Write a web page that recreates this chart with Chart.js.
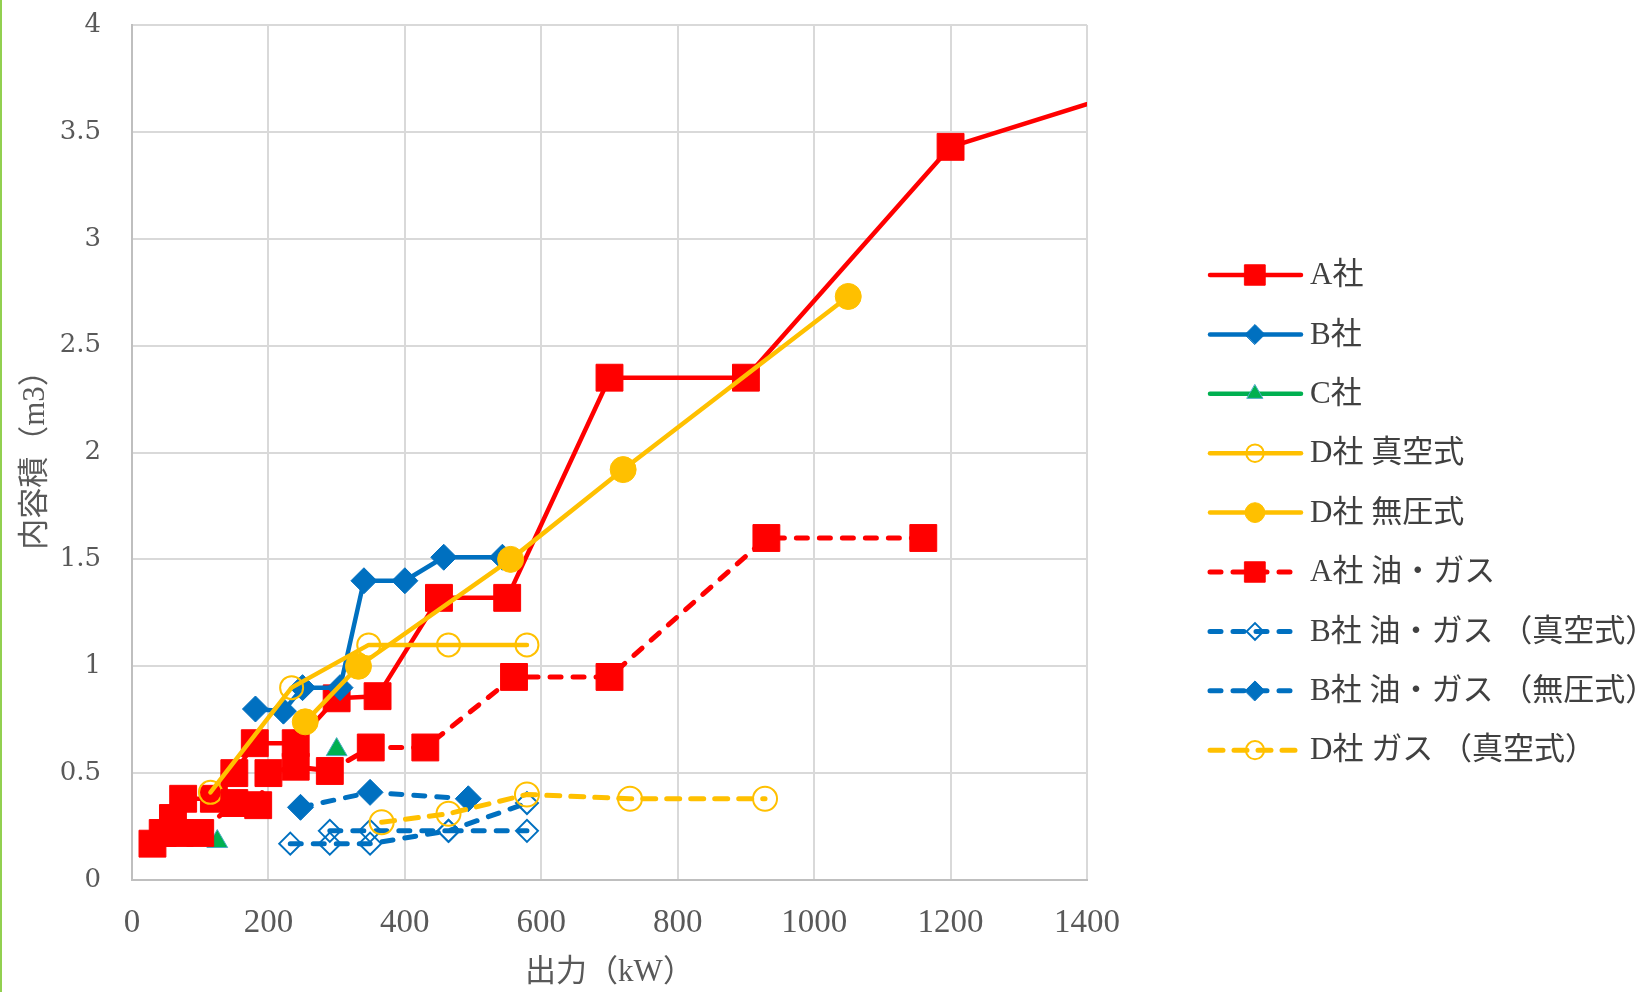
<!DOCTYPE html>
<html lang="ja">
<head>
<meta charset="utf-8">
<title>出力と内容積</title>
<script src="https://cdn.jsdelivr.net/npm/chart.js"></script>
<style>
  html, body { margin: 0; padding: 0; background: #fff; }
  #wrap { position: relative; width: 1650px; height: 992px; overflow: hidden; }
  #chart { position: absolute; left: 0; top: 0; }
  #edge { position: absolute; left: 0; top: 0; width: 2px; height: 992px; background: #92d050; }
</style>
</head>
<body>
<div id="wrap">
  <canvas id="chart" width="1650" height="992"></canvas>
  <div id="edge"></div>
</div>
<script>
// 出力 (kW) と 内容積 (m3)
const aKW  = [30, 45, 60, 75, 120, 150, 180, 240, 300, 360, 450, 550, 700, 900, 1200, 1600];
const aVol = [0.17, 0.22, 0.29, 0.38, 0.38, 0.50, 0.64, 0.64, 0.85, 0.86, 1.32, 1.32, 2.35, 2.35, 3.43, 3.83];

const bKW  = [181, 222, 250, 305, 340, 400, 457, 543];
const bVol = [0.80, 0.79, 0.90, 0.90, 1.40, 1.40, 1.51, 1.51];

const cKW  = [125, 300];
const cVol = [0.18, 0.61];

const dVacKW  = [115, 234, 347, 464, 579];
const dVacVol = [0.41, 0.90, 1.10, 1.10, 1.10];

const dAtmKW  = [254, 332, 555, 720, 1050];
const dAtmVol = [0.74, 1.00, 1.50, 1.92, 2.73];

const aOilKW  = [70, 100, 150, 185, 200, 240, 290, 350, 430, 560, 700, 930, 1160];
const aOilVol = [0.22, 0.22, 0.36, 0.35, 0.50, 0.53, 0.51, 0.62, 0.62, 0.95, 0.95, 1.60, 1.60];

// null splits the line into two runs
const bOilVacKW  = [232, 290, 349, 464, 579, null, 290, 349, 464, 579];
const bOilVacVol = [0.17, 0.17, 0.17, 0.23, 0.23, null, 0.23, 0.23, 0.23, 0.36];

const bOilAtmKW  = [247, 349, 493];
const bOilAtmVol = [0.34, 0.41, 0.38];

const dGasKW  = [366, 464, 579, 730, 928];
const dGasVol = [0.27, 0.31, 0.40, 0.38, 0.38];

const xTicks = [0, 200, 400, 600, 800, 1000, 1200, 1400];
const yTicks = [0, 0.5, 1, 1.5, 2, 2.5, 3, 3.5, 4];

const RED = "#ff0000";
const BLUE = "#0070c0";
const GREEN = "#00b050";
const YELLOW = "#ffc000";
const NONE = "rgba(0,0,0,0)";
const DASH = [11, 12];

const pts = (xs, ys) => xs.map((x, i) => ({ x: x, y: ys[i] }));

const line = (label, xs, ys, color, extra) => Object.assign({
  label: label,
  data: pts(xs, ys),
  showLine: true,
  borderColor: color,
  borderWidth: 4.5,
  borderCapStyle: "round",
  borderJoinStyle: "round",
  tension: 0,
  pointBackgroundColor: color,
  pointBorderColor: color,
  pointBorderWidth: 1,
  pointHoverRadius: 0,
}, extra);

const datasets = [
  line("A社", aKW, aVol, RED, { pointStyle: "rect", pointRadius: 19 }),
  line("B社", bKW, bVol, BLUE, { pointStyle: "rectRot", pointRadius: 13 }),
  line("C社", cKW, cVol, GREEN, { showLine: false, pointStyle: "triangle", pointRadius: 12, pointBorderColor: "#4bacc6" }),
  line("D社 真空式", dVacKW, dVacVol, YELLOW, { pointStyle: "circle", pointRadius: 11.5, pointBackgroundColor: NONE, pointBorderWidth: 2 }),
  line("D社 無圧式", dAtmKW, dAtmVol, YELLOW, { pointStyle: "circle", pointRadius: 13 }),
  line("A社 油・ガス", aOilKW, aOilVol, RED, { borderDash: DASH, borderWidth: 5, pointStyle: "rect", pointRadius: 19 }),
  line("B社 油・ガス （真空式）", bOilVacKW, bOilVacVol, BLUE, { borderDash: DASH, borderWidth: 5, pointStyle: "rectRot", pointRadius: 11, pointBackgroundColor: NONE, pointBorderWidth: 2 }),
  line("B社 油・ガス （無圧式）", bOilAtmKW, bOilAtmVol, BLUE, { borderDash: DASH, borderWidth: 5, pointStyle: "rectRot", pointRadius: 13 }),
  line("D社 ガス （真空式）", dGasKW, dGasVol, YELLOW, { borderDash: [13, 11], borderWidth: 5, pointStyle: "circle", pointRadius: 12, pointBackgroundColor: NONE, pointBorderWidth: 2 }),
];

// later series sit on top of earlier ones
datasets.forEach((ds, i) => { ds.order = datasets.length - i; });

const TEXT = "#595959";
const LATIN_CJK = "'Liberation Serif', 'Noto Sans CJK JP', serif";

// legend down the right side: line sample, marker, label
const sideLegend = {
  id: "sideLegend",
  afterDraw(chart) {
    const ctx = chart.ctx;
    chart.data.datasets.forEach((ds, i) => {
      const y = 275 + i * 59.4;
      ctx.save();
      ctx.strokeStyle = ds.borderColor;
      ctx.lineWidth = ds.borderWidth;
      ctx.lineCap = "round";
      ctx.setLineDash(ds.borderDash || []);
      ctx.beginPath();
      ctx.moveTo(1210, y);
      ctx.lineTo(1301, y);
      ctx.stroke();
      ctx.setLineDash([]);
      ctx.fillStyle = ds.pointBackgroundColor;
      ctx.strokeStyle = ds.pointBorderColor;
      ctx.lineWidth = ds.pointBorderWidth;
      Chart.helpers.drawPoint(ctx, {
        pointStyle: ds.pointStyle,
        radius: ds.pointRadius * 0.76,
        borderWidth: ds.pointBorderWidth,
        rotation: 0,
      }, 1255, y);
      ctx.fillStyle = "#404040";
      ctx.font = "31px " + LATIN_CJK;
      ctx.textBaseline = "middle";
      ctx.textAlign = "left";
      ctx.fillText(ds.label, 1310, y + 1);
      ctx.restore();
    });
  },
};

// keep the plot box fixed: no extra room for overhanging tick labels
const noOverhang = (scale) => {
  scale.paddingTop = 0;
  scale.paddingBottom = 0;
  scale.paddingLeft = 0;
  scale.paddingRight = 0;
};

new Chart(document.getElementById("chart"), {
  type: "scatter",
  data: { datasets: datasets },
  plugins: [sideLegend],
  options: {
    responsive: false,
    animation: false,
    devicePixelRatio: 1,
    layout: { padding: { left: 0, top: 25, right: 563, bottom: 0 } },
    plugins: {
      legend: { display: false },
      tooltip: { enabled: false },
    },
    scales: {
      x: {
        type: "linear",
        min: xTicks[0],
        max: xTicks[xTicks.length - 1],
        afterFit: (scale) => { scale.height = 112; noOverhang(scale); },
        afterBuildTicks: (scale) => { scale.ticks = xTicks.map((v) => ({ value: v })); },
        ticks: {
          autoSkip: false,
          maxRotation: 0,
          padding: 24,
          color: TEXT,
          font: { family: "'Liberation Serif', serif", size: 33 },
          callback: (v) => String(v),
        },
        grid: { color: "#d9d9d9", lineWidth: 2, drawTicks: false },
        border: { color: "#bfbfbf", width: 2 },
        title: {
          display: true,
          text: "出力（kW）",
          color: TEXT,
          font: { family: LATIN_CJK, size: 31 },
          padding: { top: 0, bottom: 1 },
        },
      },
      y: {
        type: "linear",
        min: yTicks[0],
        max: yTicks[yTicks.length - 1],
        afterFit: (scale) => { scale.width = 132; noOverhang(scale); },
        afterBuildTicks: (scale) => { scale.ticks = yTicks.map((v) => ({ value: v })); },
        ticks: {
          padding: 31,
          color: TEXT,
          font: { family: "'DejaVu Serif', serif", size: 26 },
          callback: (v) => String(v),
        },
        grid: { color: "#d9d9d9", lineWidth: 2, drawTicks: false },
        border: { color: "#bfbfbf", width: 2 },
        title: {
          display: true,
          text: "内容積（m3）",
          color: TEXT,
          font: { family: LATIN_CJK, size: 31 },
          padding: { top: 17, bottom: 0 },
        },
      },
    },
  },
});
</script>
</body>
</html>
